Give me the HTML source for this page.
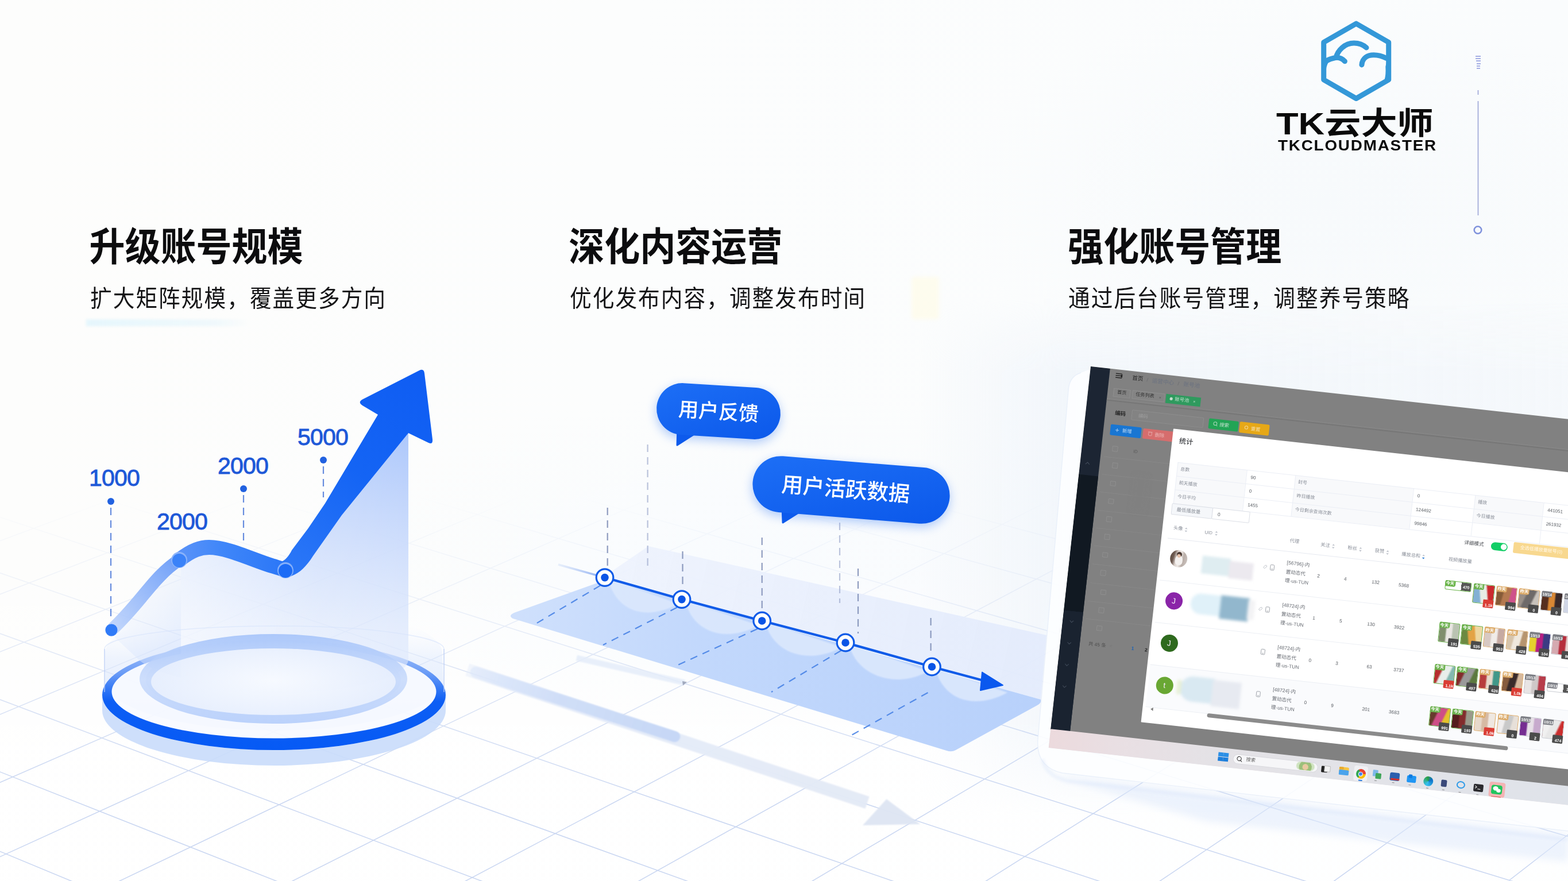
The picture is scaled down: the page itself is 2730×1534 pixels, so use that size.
<!DOCTYPE html><html lang="zh"><head><meta charset="utf-8"><title>TK云大师</title><style>
*{margin:0;padding:0;box-sizing:border-box}
html,body{width:2730px;height:1534px;overflow:hidden;background:#fcfdfd;font-family:"Liberation Sans","Noto Sans CJK SC",sans-serif}
#stage{position:relative;width:2730px;height:1534px;overflow:hidden;background:#fcfdfd}
.abs{position:absolute;left:0;top:0}
.t{position:absolute;white-space:nowrap;font-family:"Liberation Sans","Noto Sans CJK SC",sans-serif;line-height:1;overflow:visible;padding-top:.1em}
.t.g{color:#8b909a}
.t.r{color:#6a6e75}
.t.w{color:#fff;font-weight:bold}
svg{position:absolute;left:0;top:0;overflow:visible}

.num{position:absolute;font:41px/1 "Liberation Sans",sans-serif;color:#1d58d8;letter-spacing:-.8px;white-space:nowrap;-webkit-text-stroke:.9px #1d58d8}

#scr{position:absolute;left:1899px;top:638px;width:960px;height:668px;transform-origin:0 0;transform:rotate(6.3deg);overflow:hidden;background:linear-gradient(180deg,#818181 0,#818181 635.5px,#e6e1e6 635.5px);font-family:"Liberation Sans","Noto Sans CJK SC",sans-serif}
#scr svg{position:absolute;left:0;top:0;overflow:visible}
#scr svg text{font-family:"Liberation Sans",sans-serif}
.th{position:absolute;border:1.6px solid;border-radius:2.5px;overflow:visible}
.th i{position:absolute;left:-1px;top:-1px;width:18px;height:10px;border-radius:2px 0 3px 0}
.th b{position:absolute;right:-1px;bottom:-7px;width:18px;height:14px;border-radius:1.5px}

</style></head><body><div id="stage">
<div class="abs" style="width:2730px;height:1534px;background:
radial-gradient(ellipse 900px 500px at 2300px 350px, rgba(244,248,251,.55), rgba(244,248,251,0) 70%),
radial-gradient(ellipse 1100px 420px at 1300px 980px, rgba(246,250,255,.55), rgba(246,250,255,0) 70%),
linear-gradient(180deg,rgba(255,255,255,0) 62%,rgba(255,255,255,.85) 85%),
linear-gradient(90deg,#fdfdfc 0%,#fcfdfd 40%,#fafcfd 100%)"></div>
<div class="abs" style="left:1600px;top:520px;width:1130px;height:900px;background:linear-gradient(90deg,rgba(236,242,250,0) 0,rgba(236,242,250,.35) 150px,rgba(236,242,250,.6) 262px,rgba(240,245,250,.45) 100%);-webkit-mask-image:linear-gradient(180deg,transparent 0,#000 130px,#000 740px,transparent 100%);mask-image:linear-gradient(180deg,transparent 0,#000 130px,#000 740px,transparent 100%)"></div>
<div class="abs" style="left:150px;top:556px;width:285px;height:12px;background:linear-gradient(90deg,rgba(226,245,252,.9),rgba(232,246,252,.6) 80%,rgba(232,246,252,0));filter:blur(2px)"></div>
<div class="abs" style="left:1587px;top:482px;width:48px;height:74px;background:#fffce8;opacity:.7;filter:blur(3px);border-radius:4px"></div>

<svg id="grid" width="2730" height="1534" viewBox="0 0 2730 1534">
<defs><linearGradient id="gFade" x1="0" y1="860" x2="0" y2="1400" gradientUnits="userSpaceOnUse">
<stop offset="0" stop-color="#fff" stop-opacity="0"/><stop offset=".3" stop-color="#fff" stop-opacity=".28"/><stop offset=".65" stop-color="#fff" stop-opacity=".7"/><stop offset="1" stop-color="#fff" stop-opacity="1"/></linearGradient>
<mask id="gMask" maskUnits="userSpaceOnUse" x="0" y="0" width="2730" height="1534"><rect x="0" y="0" width="2730" height="1534" fill="url(#gFade)"/></mask></defs>
<g mask="url(#gMask)"><path d="M-767.8 500.8L-794.0 507.9M-572.0 500.3L-781.5 559.0M-401.0 507.1L-796.1 620.8M-204.2 506.7L-782.9 678.0M-7.4 506.3L-798.5 747.5M189.7 505.8L-784.5 812.1M386.8 505.4L-769.8 880.7M584.1 505.0L-786.3 964.4M781.6 504.6L-770.6 1042.7M979.2 504.2L-788.4 1138.7M1176.9 503.8L-771.6 1229.0M1374.8 503.4L-790.8 1340.3M1572.8 502.9L-772.7 1445.6M1771.0 502.5L-793.6 1576.2M1969.4 502.1L-774.0 1700.5M2167.8 501.7L-796.9 1855.7M2366.4 501.3L-775.6 2004.7M2565.2 500.9L-752.2 2167.8M2764.1 500.5L-777.5 2374.1M2963.2 500.0L-392.6 2374.6M3150.2 506.8L-7.2 2375.2M3350.3 506.4L378.7 2375.7M3550.5 506.0L765.2 2376.2M3591.2 620.6L1152.3 2376.8M3589.0 786.5L1539.9 2377.3M3599.7 969.9L1928.0 2377.9M3598.0 1199.1L2316.8 2378.4M3595.9 1475.9L2706.0 2378.9M3593.4 1817.0L3095.9 2379.5M3590.1 2247.4L3486.3 2380.0M3531.3 504.1L3570.8 511.3M3283.5 502.5L3600.0 561.4M3036.3 501.0L3588.9 606.3M2826.5 506.6L3577.2 653.2M2579.9 505.0L3565.0 702.2M2334.0 503.5L3596.9 762.7M2088.9 501.9L3584.6 817.0M1844.5 500.4L3571.6 874.0M1632.8 506.0L3558.0 934.0M1388.9 504.4L3593.2 1008.4M1145.8 502.9L3579.3 1075.5M903.3 501.3L3564.7 1146.4M690.0 506.9L3549.3 1221.3M448.1 505.4L3588.5 1314.9M206.9 503.8L3572.7 1400.0M-33.6 502.3L3556.0 1490.4M-273.4 500.8L3599.6 1604.3M-488.5 506.3L3582.5 1708.3M-727.7 504.8L3564.2 1819.6M-783.4 561.4L3544.6 1939.0M-793.9 637.6L3594.6 2090.9M-779.8 728.5L3574.5 2231.2M-791.0 818.1L3552.8 2383.1M-775.5 925.9L3068.9 2374.5M-787.6 1033.0L2658.0 2393.7M-770.4 1163.0L2176.1 2385.1M-783.5 1293.2L1697.0 2376.6M-798.1 1437.1L1280.8 2395.8M-778.5 1614.5L803.6 2387.2M-794.5 1795.4L329.3 2378.6M-772.0 2021.5L-92.3 2397.8M-790.0 2255.6L-564.7 2389.2" stroke="#b4c6ec" stroke-width="1.5" fill="none" opacity=".72"/></g>
</svg>
<svg id="chart" width="2730" height="1534" viewBox="0 0 2730 1534">
<defs>
<linearGradient id="cPanel" x1="0" y1="0" x2="0" y2="1" gradientUnits="objectBoundingBox">
<stop offset="0" stop-color="#a9c5fb" stop-opacity=".95"/><stop offset=".45" stop-color="#c9dafc" stop-opacity=".85"/><stop offset="1" stop-color="#e6eefd" stop-opacity=".55"/>
</linearGradient>
<linearGradient id="cPanelH" x1="315" y1="0" x2="711" y2="0" gradientUnits="userSpaceOnUse">
<stop offset="0" stop-color="#fff" stop-opacity=".55"/><stop offset=".6" stop-color="#fff" stop-opacity=".12"/><stop offset="1" stop-color="#fff" stop-opacity="0"/>
</linearGradient>
<linearGradient id="cPanelL" x1="194" y1="1000" x2="315" y2="1100" gradientUnits="userSpaceOnUse">
<stop offset="0" stop-color="#dfe9fd" stop-opacity=".0"/><stop offset="1" stop-color="#d5e3fd" stop-opacity=".55"/>
</linearGradient>
<linearGradient id="cArrow" x1="500" y1="990" x2="740" y2="650" gradientUnits="userSpaceOnUse">
<stop offset="0" stop-color="#2b77f7"/><stop offset=".5" stop-color="#1464f4"/><stop offset="1" stop-color="#0f5df3"/>
</linearGradient>
<linearGradient id="cCurve1" x1="194" y1="1097" x2="312" y2="975" gradientUnits="userSpaceOnUse">
<stop offset="0" stop-color="#b9d0fb" stop-opacity=".85"/><stop offset="1" stop-color="#6f9ff8"/>
</linearGradient>
<linearGradient id="cCurve2" x1="312" y1="0" x2="500" y2="0" gradientUnits="userSpaceOnUse">
<stop offset="0" stop-color="#5a93f8"/><stop offset=".4" stop-color="#3f86f9"/><stop offset="1" stop-color="#2a76f7"/>
</linearGradient>
<linearGradient id="cRing" x1="0" y1="1114" x2="0" y2="1306" gradientUnits="userSpaceOnUse">
<stop offset="0" stop-color="#9dbdf9" stop-opacity=".8"/><stop offset=".3" stop-color="#6b9cf6"/><stop offset=".47" stop-color="#2a72f5"/><stop offset=".56" stop-color="#0d5ef4"/><stop offset="1" stop-color="#065af5"/>
</linearGradient>
<linearGradient id="cRingIn" x1="0" y1="1104" x2="0" y2="1262" gradientUnits="userSpaceOnUse">
<stop offset="0" stop-color="#a9c6fa" stop-opacity=".95"/><stop offset=".5" stop-color="#c3d7fb" stop-opacity=".8"/><stop offset="1" stop-color="#b7cffb" stop-opacity=".95"/>
</linearGradient>
<linearGradient id="cGlass" x1="0" y1="1090" x2="0" y2="1230" gradientUnits="userSpaceOnUse">
<stop offset="0" stop-color="#e9f0fe" stop-opacity=".0"/><stop offset=".4" stop-color="#dbe7fd" stop-opacity=".45"/><stop offset="1" stop-color="#cfdffc" stop-opacity=".6"/>
</linearGradient>
<radialGradient id="cDisk" cx="476" cy="1185" r="235" gradientUnits="userSpaceOnUse" gradientTransform="translate(0 790) scale(1 .333)">
<stop offset="0" stop-color="#f7faff" stop-opacity=".9"/><stop offset="1" stop-color="#e3ecfd" stop-opacity=".9"/>
</radialGradient>
<filter id="blur6" x="-20%" y="-20%" width="140%" height="140%"><feGaussianBlur stdDeviation="6"/></filter>
<filter id="blur3" x="-20%" y="-20%" width="140%" height="140%"><feGaussianBlur stdDeviation="2.5"/></filter>
<filter id="blur1"><feGaussianBlur stdDeviation=".7"/></filter>
</defs>

<!-- shadow ring below -->
<path fill="#c9dbfb" opacity=".9" d="M178 1210 A299 96 0 0 0 776 1210 L776 1237 A299 96 0 0 1 178 1237 Z"/>

<!-- glass cylinder body -->
<path d="M183 1190 L183 1134 A294 86 0 0 1 770 1134 L772 1195 A296 88 0 0 1 183 1190Z" fill="url(#cGlass)"/>
<ellipse cx="477" cy="1206" rx="284" ry="82" fill="#f7faff" opacity=".9"/>

<!-- outer ring -->
<path fill-rule="evenodd" fill="url(#cRing)" d="M178 1210 A299 96 0 1 0 776 1210 A299 96 0 1 0 178 1210Z M194.5 1204.5 A282.5 81 0 1 1 759.5 1204.5 A282.5 81 0 1 1 194.5 1204.5Z"/>

<!-- vertical gradient panel under curve -->
<path d="M315 978 C335 958 350 953 364 953 C395 953 440 975 473 985 C500 993 520 985 540 955 L640 800 L711 754 L711 1150 A233 60 0 0 1 315 1190 Z" fill="url(#cPanel)"/>
<path d="M315 978 C335 958 350 953 364 953 C395 953 440 975 473 985 C500 993 520 985 540 955 L640 800 L711 754 L711 1150 A233 60 0 0 1 315 1190 Z" fill="url(#cPanelH)"/>
<path d="M194 1097 C240 1060 270 1010 315 978 L315 1180 A233 70 0 0 1 243 1150 L200 1110Z" fill="url(#cPanelL)"/>

<!-- inner ring (cylinder) -->
<ellipse cx="476" cy="1184" rx="222" ry="66" fill="url(#cDisk)"/>
<path fill-rule="evenodd" fill="url(#cRingIn)" d="M243 1182 A233 78 0 1 0 709 1182 A233 78 0 1 0 243 1182Z M263 1187 A213 58 0 1 1 689 1187 A213 58 0 1 1 263 1187Z"/>

<!-- glass cylinder outline -->
<path d="M182 1205 L182 1130 M773 1205 L773 1130" stroke="#b9cdf6" stroke-width="1.6" fill="none" opacity=".8"/>
<path d="M182 1130 A295 40 0 0 1 773 1130" stroke="#d5e2fb" stroke-width="1.5" fill="none" opacity=".6"/>

<!-- dashed guides -->
<g stroke="#4b78d8" stroke-width="2.2" stroke-dasharray="13 9" fill="none" opacity=".85">
<path d="M193 884 V1082"/>
<path d="M424 862 V942"/>
<path d="M563 812 V866"/>
</g>
<g fill="#2161e0"><circle cx="193" cy="873" r="6"/><circle cx="424" cy="851" r="6"/><circle cx="563" cy="801" r="6"/></g>

<!-- curve segment 1 (light) -->
<path d="M194 1097 C245 1050 268 1003 312 975" stroke="url(#cCurve1)" stroke-width="22" fill="none" stroke-linecap="round"/>
<!-- curve segment 2 -->
<path d="M312 975 C335 957 350 953 364 953 C396 953 440 975 473 985 C484 988 492 991 498 993" stroke="url(#cCurve2)" stroke-width="26" fill="none" stroke-linecap="round"/>
<!-- arrow shaft + head -->
<path d="M486 980 C497 976 503 968 508 958 L536.5 920 L566 876.5 L658 722 L631 706 Q622 700 632 695 L730 645 Q738 641 739 650 L753 765 Q754 776 744 770 L711 754 L595 897 L545 968 C530 992 515 1003 496 1006 Z" fill="url(#cArrow)"/>
<!-- dots -->
<circle cx="194" cy="1097" r="10.5" fill="#2f7af7"/>
<circle cx="312" cy="975" r="14" fill="#8fb6fa" opacity=".9"/><circle cx="312" cy="976" r="12" fill="#3a82f8"/>
<circle cx="497" cy="993" r="14" fill="#8fb6fa" opacity=".9"/><circle cx="497" cy="994" r="12" fill="#1b6bf6"/>
</svg>
<div class="num" style="left:155px;top:812px">1000</div>
<div class="num" style="left:273px;top:888px">2000</div>
<div class="num" style="left:379px;top:791px">2000</div>
<div class="num" style="left:518px;top:741px">5000</div>

<svg id="timeline" width="2730" height="1534" viewBox="0 0 2730 1534">
<defs>
<linearGradient id="tPlane" x1="900" y1="1070" x2="1800" y2="1230" gradientUnits="userSpaceOnUse">
<stop offset="0" stop-color="#cfe0fc"/><stop offset=".35" stop-color="#c2d8fc"/><stop offset="1" stop-color="#b8d1fb"/></linearGradient>
<linearGradient id="tBack" x1="1050" y1="960" x2="1800" y2="1130" gradientUnits="userSpaceOnUse">
<stop offset="0" stop-color="#edf2fd" stop-opacity=".9"/><stop offset="1" stop-color="#e3ebfc" stop-opacity=".95"/></linearGradient>
<linearGradient id="tLead" x1="972" y1="983" x2="1053" y2="1006" gradientUnits="userSpaceOnUse">
<stop offset="0" stop-color="#bcd0f6" stop-opacity=".3"/><stop offset="1" stop-color="#7fa4ef"/></linearGradient>
<linearGradient id="tBub" x1="0" y1="0" x2="1" y2="1">
<stop offset="0" stop-color="#1d6ff6"/><stop offset="1" stop-color="#0b58ea"/></linearGradient>
<linearGradient id="tFade" x1="0" y1="0" x2="0" y2="1"><stop offset="0" stop-color="#7d8db3"/><stop offset=".7" stop-color="#8b9bc3" stop-opacity=".8"/><stop offset="1" stop-color="#9fb0d8" stop-opacity=".15"/></linearGradient>
<linearGradient id="tArr1" x1="814" y1="1166" x2="1510" y2="1397" gradientUnits="userSpaceOnUse">
<stop offset="0" stop-color="#e6edfa" stop-opacity=".5"/><stop offset=".1" stop-color="#e4ecfa" stop-opacity=".95"/><stop offset="1" stop-color="#e3e9f5" stop-opacity=".95"/></linearGradient>
<linearGradient id="tArr2" x1="828" y1="1170" x2="1175" y2="1283" gradientUnits="userSpaceOnUse">
<stop offset="0" stop-color="#d9e5fa" stop-opacity=".55"/><stop offset=".4" stop-color="#cfddf7" stop-opacity=".95"/><stop offset="1" stop-color="#c6d7f6"/></linearGradient>
<filter id="tb4" x="-10%" y="-30%" width="120%" height="160%"><feGaussianBlur stdDeviation="3"/></filter><filter id="tb1" x="-5%" y="-20%" width="110%" height="140%"><feGaussianBlur stdDeviation=".8"/></filter>
<filter id="tb10" x="-30%" y="-30%" width="160%" height="160%"><feGaussianBlur stdDeviation="9"/></filter>
</defs>
<g filter="url(#tb1)">
<path d="M810.4 1176.4L1506.5 1407.9L1513.5 1387.1L817.4 1155.6Z" fill="url(#tArr1)"/>
<path d="M1502 1437 L1543.5 1391.5 L1602 1435Z" fill="#dde5f2" opacity=".95"/>
<path d="M1002.9 1150.6L1190.9 1193.5L1193.1 1183.7L1005.1 1140.8Z" fill="#e4ecf9" opacity=".85"/>
</g>
<path d="M828.3 1170.4 L1174.8 1282.6" stroke="url(#tArr2)" stroke-width="19" stroke-linecap="round" fill="none" filter="url(#tb1)"/>
<path d="M1188 1186 l8 1.5 l-7 6z" fill="#8a93aa" opacity=".75"/>
<path d="M1053 1003 L1129 951 L1822 1106 L1812 1218 Z" fill="url(#tBack)"/>
<path d="M895 1067 L1040 1015 L1053 1006 L1812 1218 Q1814 1224 1806 1228 L1664 1306 Q1657 1310 1648 1307 L893 1077 Q884 1072 895 1067Z" fill="url(#tPlane)"/>
<path d="M1059 1007.6 C1071 1061.6 1121 1083.6 1181 1051.6 Z" fill="#dbe8fd" opacity=".92" filter="url(#tb1)"/>
<path d="M1193 1045.6 C1205 1099.6 1260.7 1121 1320.7 1089 Z" fill="#dbe8fd" opacity=".92" filter="url(#tb1)"/>
<path d="M1332.7 1083 C1344.7 1137 1406 1159 1466 1127 Z" fill="#dbe8fd" opacity=".92" filter="url(#tb1)"/>
<path d="M1478 1121 C1490 1175 1556.5 1201 1616.5 1169 Z" fill="#dbe8fd" opacity=".92" filter="url(#tb1)"/>
<path d="M1628.5 1163 C1640.5 1217 1694 1238 1754 1206 Z" fill="#dbe8fd" opacity=".92" filter="url(#tb1)"/>
<g stroke="#4a84e6" stroke-width="2.2" stroke-dasharray="13 10" fill="none" opacity=".9">
<path d="M1045 1019.6 L933 1086"/>
<path d="M1179 1057.6 L1050 1123"/>
<path d="M1318.7 1095 L1180 1158"/>
<path d="M1464 1133 L1343 1205"/>
<path d="M1615.5 1206 L1479 1282"/>
</g>
<path d="M1057.7 884 L1057.71 990" stroke="#8391b8" stroke-width="2.2" stroke-dasharray="13 9" fill="none" opacity="0.9"/>
<path d="M1127.6 774 L1127.61 992" stroke="#8f9dc4" stroke-width="2.2" stroke-dasharray="13 9" fill="none" opacity="0.6"/>
<path d="M1188.5 960 L1188.51 1025" stroke="#8391b8" stroke-width="2.2" stroke-dasharray="13 9" fill="none" opacity="0.9"/>
<path d="M1326.7 936 L1326.71 1062" stroke="#8391b8" stroke-width="2.2" stroke-dasharray="13 9" fill="none" opacity="0.9"/>
<path d="M1462 910 L1462.01 1050" stroke="#8f9dc4" stroke-width="2.2" stroke-dasharray="13 9" fill="none" opacity="0.6"/>
<path d="M1494 990 L1494.01 1103" stroke="#8391b8" stroke-width="2.2" stroke-dasharray="13 9" fill="none" opacity="0.9"/>
<path d="M1620.6 1076 L1620.61 1142" stroke="#8391b8" stroke-width="2.2" stroke-dasharray="13 9" fill="none" opacity="0.9"/>
<path d="M972 983 L1053 1005.6" stroke="url(#tLead)" stroke-width="3.5" fill="none"/>
<path d="M1053 1005.6 L1187 1043.6 L1326.7 1081 L1472 1119 L1622.5 1161 L1716 1186" stroke="#0f5be8" stroke-width="4.2" fill="none"/>
<path d="M1746 1193 L1710 1170.5 L1707 1202Z" fill="#0a58ee" stroke="#0a58ee" stroke-width="2" stroke-linejoin="round"/>
<circle cx="1053" cy="1005.6" r="14.8" fill="#fff" stroke="#0f5be8" stroke-width="3.2"/><circle cx="1053" cy="1005.6" r="6.8" fill="#0b55e6"/>
<circle cx="1187" cy="1043.6" r="14.8" fill="#fff" stroke="#0f5be8" stroke-width="3.2"/><circle cx="1187" cy="1043.6" r="6.8" fill="#0b55e6"/>
<circle cx="1326.7" cy="1081" r="14.8" fill="#fff" stroke="#0f5be8" stroke-width="3.2"/><circle cx="1326.7" cy="1081" r="6.8" fill="#0b55e6"/>
<circle cx="1472" cy="1119" r="14.8" fill="#fff" stroke="#0f5be8" stroke-width="3.2"/><circle cx="1472" cy="1119" r="6.8" fill="#0b55e6"/>
<circle cx="1622.5" cy="1161" r="14.8" fill="#fff" stroke="#0f5be8" stroke-width="3.2"/><circle cx="1622.5" cy="1161" r="6.8" fill="#0b55e6"/>
<g filter="url(#tb10)" opacity=".55"><rect x="1143.0" y="677.0" width="216" height="90" rx="45.0" transform="rotate(3.6 1251 716)" fill="#6fa0f6"/></g>
<path d="M1180 744 L1179 775 L1218 750Z" fill="#0d5aec" stroke="#0d5aec" stroke-width="3" stroke-linejoin="round"/>
<rect x="1143.0" y="671.0" width="216" height="90" rx="45.0" transform="rotate(3.6 1251 716)" fill="url(#tBub)"/>
<g filter="url(#tb10)" opacity=".55"><rect x="1310.0" y="810.0" width="344" height="98" rx="49.0" transform="rotate(4.6 1482 853)" fill="#6fa0f6"/></g>
<path d="M1362 880 L1363 910 L1404 884Z" fill="#0d5aec" stroke="#0d5aec" stroke-width="3" stroke-linejoin="round"/>
<rect x="1310.0" y="804.0" width="344" height="98" rx="49.0" transform="rotate(4.6 1482 853)" fill="url(#tBub)"/>
</svg>
<div class="t" style="left:1178px;top:695px;font-size:35px;width:146px;height:50px;text-align:center;color:#fff;font-weight:500;transform:rotate(3.6deg)">用户反馈</div>
<div class="t" style="left:1360px;top:830px;font-size:37.3px;width:226px;height:56px;color:#fff;font-weight:500;transform:rotate(4.6deg)">用户活跃数据</div>
<svg width="2730" height="1534" viewBox="0 0 2730 1534">
<defs><filter id="fb8" x="-10%" y="-10%" width="120%" height="120%"><feGaussianBlur stdDeviation="7"/></filter>
<filter id="fb3" x="-10%" y="-10%" width="120%" height="120%"><feGaussianBlur stdDeviation="2.5"/></filter>
<linearGradient id="fShade" x1="1640" y1="0" x2="1862" y2="0" gradientUnits="userSpaceOnUse"><stop offset="0" stop-color="#eaf0f8" stop-opacity="0"/><stop offset=".6" stop-color="#eaf0f8" stop-opacity=".55"/><stop offset="1" stop-color="#e6edf7" stop-opacity=".95"/></linearGradient>
<linearGradient id="fShadeV" x1="0" y1="560" x2="0" y2="1380" gradientUnits="userSpaceOnUse"><stop offset="0" stop-color="#fff" stop-opacity="0"/><stop offset=".12" stop-color="#fff" stop-opacity="1"/><stop offset=".85" stop-color="#fff" stop-opacity="1"/><stop offset="1" stop-color="#fff" stop-opacity="0"/></linearGradient>
<mask id="fMask" maskUnits="userSpaceOnUse" x="1600" y="500" width="400" height="1000"><rect x="1600" y="500" width="400" height="1000" fill="url(#fShadeV)"/></mask>
</defs>

<path d="M1840 1352 L2730 1452 L2730 1500 L2100 1430 Z" fill="#dfe9fb" opacity=".55" filter="url(#fb8)"/>
<path d="M1905 640 L1882 649 Q1863 655 1860.5 676 L1807 1287 Q1803 1336 1850 1346 L2730 1447 L2730 740 Z" fill="#fdfeff" opacity=".9"/>
<path d="M1882 649 Q1863 655 1860.5 676 L1807 1287 Q1803 1336 1850 1346 L2730 1447" fill="none" stroke="#e6edf9" stroke-width="1.4" opacity=".8"/>
<path d="M1815 1322 Q1822 1352 1860 1360 L2730 1462" fill="none" stroke="#d9e5fa" stroke-width="5" opacity=".5" filter="url(#fb3)"/>
</svg>
<div id="scr">
<div style="position:absolute;left:0px;top:0px;width:34px;height:636px;background:#1c2533;"></div>
<div style="position:absolute;left:0px;top:189px;width:34px;height:238px;background:#111922;"></div>
<div style="position:absolute;left:0px;top:427px;width:34px;height:209px;background:#1a2330;"></div>
<span class="t" style="left:74.0px;top:6.2px;font-size:9.6px;width:19.2px;height:11.5px;color:#262626">首页</span>
<span class="t" style="left:109.0px;top:6.6px;font-size:9.6px;width:38.4px;height:11.5px;color:#6b7280">运营中心</span>
<span class="t" style="left:164.0px;top:7.2px;font-size:9.6px;width:28.8px;height:11.5px;color:#6b7280">账号池</span>
<div style="position:absolute;left:44px;top:32.5px;width:30px;height:15.5px;background:#848484;border:1px solid #8f8f8f"></div>
<span class="t" style="left:50.8px;top:35.4px;font-size:8.2px;width:16.4px;height:9.8px;color:#333">首页</span>
<div style="position:absolute;left:77px;top:32.5px;width:57px;height:15.5px;background:#848484;border:1px solid #8f8f8f"></div>
<span class="t" style="left:83.0px;top:35.4px;font-size:8.2px;width:32.8px;height:9.8px;color:#333">任务列表</span>
<div style="position:absolute;left:136px;top:32.5px;width:61px;height:16.5px;background:#2f9a5e;"></div>
<span class="t" style="left:152.0px;top:35.8px;font-size:8.2px;width:24.6px;height:9.8px;color:#bfe0cc">账号池</span>
<div style="position:absolute;left:34px;top:51.5px;width:900px;height:1px;background:#898989;"></div>
<div style="position:absolute;left:34px;top:53.5px;width:900px;height:2.2px;background:#767676;opacity:.9"></div>
<span class="t" style="left:51.0px;top:70.4px;font-size:9.4px;width:18.8px;height:11.3px;color:#262626;font-weight:bold">编码</span>
<div style="position:absolute;left:80px;top:66.5px;width:126px;height:18.5px;background:#838383;border-radius:2px;border:1px solid #8e8e8e"></div>
<span class="t" style="left:92.0px;top:71.0px;font-size:8.4px;width:16.8px;height:10.1px;color:#9d9d9d">编码</span>
<div style="position:absolute;left:214.5px;top:66.8px;width:52px;height:18.6px;background:#22a455;border-radius:2px;"></div>
<span class="t" style="left:234.0px;top:71.2px;font-size:8.4px;width:16.8px;height:10.1px;color:#a9d8bb;font-weight:500">搜索</span>
<div style="position:absolute;left:269.3px;top:67.4px;width:52px;height:18.4px;background:#e6a817;border-radius:2px;"></div>
<span class="t" style="left:289.0px;top:71.8px;font-size:8.4px;width:16.8px;height:10.1px;color:#f3d694;font-weight:500">重置</span>
<div style="position:absolute;left:46px;top:96px;width:54px;height:18.5px;background:#1976d2;border-radius:2px;"></div>
<span class="t" style="left:67.0px;top:100.5px;font-size:8.4px;width:16.8px;height:10.1px;color:#a9cdf0;font-weight:500">新增</span>
<div style="position:absolute;left:102.6px;top:96.5px;width:54px;height:18px;background:#d66d6d;border-radius:2px;"></div>
<span class="t" style="left:124.0px;top:100.8px;font-size:8.4px;width:16.8px;height:10.1px;color:#e7a9a9;font-weight:500">删除</span>
<div style="position:absolute;left:53px;top:133px;width:9.5px;height:9.5px;background:#828282;border-radius:1.5px;border:1px solid #8f8f8f"></div>
<div style="position:absolute;left:56px;top:162px;width:9.5px;height:9.5px;background:#828282;border-radius:1.5px;border:1px solid #8f8f8f"></div>
<div style="position:absolute;left:40px;top:152.5px;width:120px;height:1px;background:#8b8b8b;opacity:.8"></div>
<div style="position:absolute;left:56px;top:193.5px;width:9.5px;height:9.5px;background:#828282;border-radius:1.5px;border:1px solid #8f8f8f"></div>
<div style="position:absolute;left:40px;top:184.0px;width:120px;height:1px;background:#8b8b8b;opacity:.8"></div>
<div style="position:absolute;left:56px;top:224.7px;width:9.5px;height:9.5px;background:#828282;border-radius:1.5px;border:1px solid #8f8f8f"></div>
<div style="position:absolute;left:40px;top:215.2px;width:120px;height:1px;background:#8b8b8b;opacity:.8"></div>
<div style="position:absolute;left:56px;top:256px;width:9.5px;height:9.5px;background:#828282;border-radius:1.5px;border:1px solid #8f8f8f"></div>
<div style="position:absolute;left:40px;top:246.5px;width:120px;height:1px;background:#8b8b8b;opacity:.8"></div>
<div style="position:absolute;left:56px;top:287.3px;width:9.5px;height:9.5px;background:#828282;border-radius:1.5px;border:1px solid #8f8f8f"></div>
<div style="position:absolute;left:40px;top:277.8px;width:120px;height:1px;background:#8b8b8b;opacity:.8"></div>
<div style="position:absolute;left:56px;top:318.6px;width:9.5px;height:9.5px;background:#828282;border-radius:1.5px;border:1px solid #8f8f8f"></div>
<div style="position:absolute;left:40px;top:309.1px;width:120px;height:1px;background:#8b8b8b;opacity:.8"></div>
<div style="position:absolute;left:56px;top:350px;width:9.5px;height:9.5px;background:#828282;border-radius:1.5px;border:1px solid #8f8f8f"></div>
<div style="position:absolute;left:40px;top:340.5px;width:120px;height:1px;background:#8b8b8b;opacity:.8"></div>
<div style="position:absolute;left:60px;top:383.6px;width:9.5px;height:9.5px;background:#828282;border-radius:1.5px;border:1px solid #8f8f8f"></div>
<div style="position:absolute;left:40px;top:374.1px;width:120px;height:1px;background:#8b8b8b;opacity:.8"></div>
<div style="position:absolute;left:60px;top:415px;width:9.5px;height:9.5px;background:#828282;border-radius:1.5px;border:1px solid #8f8f8f"></div>
<div style="position:absolute;left:40px;top:405.5px;width:120px;height:1px;background:#8b8b8b;opacity:.8"></div>
<div style="position:absolute;left:60px;top:446.7px;width:9.5px;height:9.5px;background:#828282;border-radius:1.5px;border:1px solid #8f8f8f"></div>
<div style="position:absolute;left:40px;top:437.2px;width:120px;height:1px;background:#8b8b8b;opacity:.8"></div>
<div style="position:absolute;left:96px;top:178px;width:26px;height:66px;background:#818181;filter:blur(3px);opacity:.7"></div>
<span class="t" style="left:49.0px;top:475.0px;font-size:8.4px;width:29.9px;height:10.1px;color:#4e4e4e">共 45 条</span>
<div style="position:absolute;left:154.5px;top:91.5px;width:800px;height:514px;background:#fff;border-radius:1px"></div>
<span class="t" style="left:167.3px;top:104.7px;font-size:12.2px;width:24.4px;height:14.6px;color:#3a3c40;font-weight:500">统计</span>
<div style="position:absolute;left:169px;top:149px;width:121px;height:72px;background:#f8f9fb;"></div>
<div style="position:absolute;left:375px;top:149px;width:207px;height:72px;background:#f8f9fb;"></div>
<div style="position:absolute;left:690px;top:149px;width:120px;height:48px;background:#f8f9fb;"></div>
<div style="position:absolute;left:169px;top:149px;width:740px;height:1px;background:#ebeef5;"></div>
<div style="position:absolute;left:169px;top:173px;width:740px;height:1px;background:#ebeef5;"></div>
<div style="position:absolute;left:169px;top:197px;width:740px;height:1px;background:#ebeef5;"></div>
<div style="position:absolute;left:169px;top:221px;width:740px;height:1px;background:#ebeef5;"></div>
<div style="position:absolute;left:169px;top:149px;width:1px;height:72px;background:#ebeef5;"></div>
<div style="position:absolute;left:290px;top:149px;width:1px;height:72px;background:#ebeef5;"></div>
<div style="position:absolute;left:375px;top:149px;width:1px;height:72px;background:#ebeef5;"></div>
<div style="position:absolute;left:582px;top:149px;width:1px;height:72px;background:#ebeef5;"></div>
<div style="position:absolute;left:690px;top:149px;width:1px;height:72px;background:#ebeef5;"></div>
<div style="position:absolute;left:810px;top:149px;width:1px;height:72px;background:#ebeef5;"></div>
<span class="t g" style="left:175.0px;top:156.4px;font-size:8px;width:16.0px;height:9.6px">总数</span>
<span class="t g" style="left:175.0px;top:180.4px;font-size:8px;width:32.0px;height:9.6px">前天播放</span>
<span class="t g" style="left:175.0px;top:204.4px;font-size:8px;width:32.0px;height:9.6px">今日平均</span>
<span class="t g" style="left:381.0px;top:156.4px;font-size:8px;width:16.0px;height:9.6px">封号</span>
<span class="t g" style="left:381.0px;top:180.4px;font-size:8px;width:32.0px;height:9.6px">昨日播放</span>
<span class="t g" style="left:381.0px;top:204.4px;font-size:8px;width:64.0px;height:9.6px">今日剩余查询次数</span>
<span class="t g" style="left:696.0px;top:156.4px;font-size:8px;width:16.0px;height:9.6px">播放</span>
<span class="t g" style="left:696.0px;top:180.4px;font-size:8px;width:32.0px;height:9.6px">今日播放</span>
<div style="position:absolute;left:167px;top:221px;width:72px;height:20px;background:#f5f7fa;border-radius:2px;border:1px solid #dcdfe6"></div>
<span class="t" style="left:176.0px;top:226.3px;font-size:8.4px;width:42.0px;height:10.1px;color:#8d929b">最低播放量</span>
<div style="position:absolute;left:238px;top:221px;width:65.5px;height:20px;background:#fff;border-radius:2px;border:1px solid #dcdfe6"></div>
<span class="t" style="left:680.0px;top:227.8px;font-size:8.6px;width:34.4px;height:10.3px;color:#4a4d52">详细模式</span>
<div style="position:absolute;left:727px;top:227px;width:29px;height:13.5px;background:#13ce66;border-radius:7px;"></div>
<div style="position:absolute;left:766px;top:222.5px;width:140px;height:19.5px;background:#f8d88f;border-radius:2px;"></div>
<span class="t" style="left:778.0px;top:227.7px;font-size:8px;width:74.3px;height:9.6px;color:#fff4dc;font-weight:500">全选低播放量账号(0)</span>
<span class="t g" style="left:174.0px;top:259.6px;font-size:8.2px;width:16.4px;height:9.8px">头像</span>
<span class="t g" style="left:378.0px;top:259.6px;font-size:8.2px;width:16.4px;height:9.8px">代理</span>
<span class="t g" style="left:432.0px;top:259.9px;font-size:8.2px;width:16.4px;height:9.8px">关注</span>
<span class="t g" style="left:479.5px;top:260.1px;font-size:8.2px;width:16.4px;height:9.8px">粉丝</span>
<span class="t g" style="left:527.0px;top:260.3px;font-size:8.2px;width:16.4px;height:9.8px">获赞</span>
<span class="t g" style="left:574.0px;top:260.8px;font-size:8.2px;width:32.8px;height:9.8px">播放总和</span>
<span class="t g" style="left:656.0px;top:261.0px;font-size:8.2px;width:41.0px;height:9.8px">视频播放量</span>
<div style="position:absolute;left:166px;top:281.5px;width:760px;height:1px;background:#e6e9f0;"></div>
<div style="position:absolute;left:160px;top:503.5px;width:770px;height:74px;background:#fafbfd;"></div>
<div style="position:absolute;left:160px;top:356.3px;width:770px;height:1px;background:#eceff4;"></div>
<span class="t r" style="left:377.0px;top:297.6px;font-size:8.6px;width:41.3px;height:10.3px">[56796]-内</span>
<span class="t r" style="left:377.0px;top:313.1px;font-size:8.6px;width:34.4px;height:10.3px">置动态代</span>
<span class="t r" style="left:377.0px;top:328.1px;font-size:8.6px;width:41.4px;height:10.3px">理-us-TUN</span>
<div style="position:absolute;left:160px;top:430px;width:770px;height:1px;background:#eceff4;"></div>
<span class="t r" style="left:377.0px;top:371.3px;font-size:8.6px;width:41.3px;height:10.3px">[48724]-内</span>
<span class="t r" style="left:377.0px;top:386.8px;font-size:8.6px;width:34.4px;height:10.3px">置动态代</span>
<span class="t r" style="left:377.0px;top:401.8px;font-size:8.6px;width:41.4px;height:10.3px">理-us-TUN</span>
<div style="position:absolute;left:160px;top:504px;width:770px;height:1px;background:#eceff4;"></div>
<span class="t r" style="left:377.0px;top:445.3px;font-size:8.6px;width:41.3px;height:10.3px">[48724]-内</span>
<span class="t r" style="left:377.0px;top:460.8px;font-size:8.6px;width:34.4px;height:10.3px">置动态代</span>
<span class="t r" style="left:377.0px;top:475.8px;font-size:8.6px;width:41.4px;height:10.3px">理-us-TUN</span>
<div style="position:absolute;left:160px;top:578px;width:770px;height:1px;background:#eceff4;"></div>
<span class="t r" style="left:377.0px;top:519.3px;font-size:8.6px;width:41.3px;height:10.3px">[48724]-内</span>
<span class="t r" style="left:377.0px;top:534.8px;font-size:8.6px;width:34.4px;height:10.3px">置动态代</span>
<span class="t r" style="left:377.0px;top:549.8px;font-size:8.6px;width:41.4px;height:10.3px">理-us-TUN</span>
<div style="position:absolute;left:173.6px;top:301.2px;width:30px;height:30px;border-radius:50%;overflow:hidden;background:linear-gradient(100deg,#5b4a42 0%,#6d5a50 22%,#d9d0cb 38%,#efeae6 55%,#b9aea8 72%,#cfc6c2 100%)"><div style="position:absolute;left:11px;top:3px;width:9px;height:9px;border-radius:50%;background:#4b3a34"></div><div style="position:absolute;left:9px;top:10px;width:13px;height:16px;border-radius:40%;background:#f4f1ef"></div><div style="position:absolute;left:12px;top:7px;width:6px;height:6px;border-radius:50%;background:#e3bfa9"></div></div>
<div style="position:absolute;left:173.5px;top:375px;width:30px;height:30px;border-radius:50%;background:#8a24a8"></div>
<div style="position:absolute;left:173.5px;top:449px;width:30px;height:30px;border-radius:50%;background:#2e6a1e"></div>
<div style="position:absolute;left:173.5px;top:522.7px;width:30px;height:30px;border-radius:50%;background:#69a733"></div>
<div style="position:absolute;left:226px;top:304px;width:98px;height:38px;filter:blur(2.2px)"><div style="position:absolute;left:4px;top:2px;width:50px;height:31px;background:#dfedf1"></div><div style="position:absolute;left:52px;top:6px;width:42px;height:30px;background:#ece9ef"></div></div>
<div style="position:absolute;left:212px;top:366px;width:120px;height:50px;filter:blur(2.6px)"><div style="position:absolute;left:6px;top:6px;width:62px;height:36px;border-radius:18px 0 0 18px;background:#e0f1f9"></div><div style="position:absolute;left:58px;top:5px;width:50px;height:41px;background:#92b7cd"></div><div style="position:absolute;left:106px;top:8px;width:12px;height:34px;background:#f3f3f5"></div></div>
<div style="position:absolute;left:208px;top:511px;width:122px;height:60px;filter:blur(2.6px)"><div style="position:absolute;left:8px;top:6px;width:60px;height:44px;border-radius:22px 0 0 22px;background:#d9e9f2"></div><div style="position:absolute;left:64px;top:8px;width:50px;height:46px;background:#e7eaf1"></div><div style="position:absolute;left:2px;top:14px;width:8px;height:26px;border-radius:4px;background:#e8f0d8"></div></div>
<div class="th" style="left:654.5px;top:301.5px;width:46px;height:16px;border-color:#67b346;background:linear-gradient(90deg,#fff 0%,#fff 62%,#565656 62%)"><i style="background:#67b346"></i></div>
<span class="t w" style="left:656.1px;top:302.5px;font-size:7.4px;width:14.8px;height:8.9px">今天</span>
<div class="th" style="left:705.0px;top:301.5px;width:36.5px;height:34.5px;border-color:#67b346;background:linear-gradient(80deg,#7fb2d9 0%,#7fb2d9 30%,#e8ece6 38%,#e8ece6 62%,#d8262c 70%);filter:saturate(.9)"><i style="background:#67b346"></i><b style="background:#e8392f"></b></div>
<span class="t w" style="left:706.6px;top:302.5px;font-size:7.4px;width:14.8px;height:8.9px">今天</span>
<div class="th" style="left:744.7px;top:301.5px;width:36.5px;height:34.5px;border-color:#e1a95f;background:linear-gradient(100deg,#8a5a33 0%,#8a5a33 30%,#b9784a 38%,#b9784a 62%,#d94f8e 70%);filter:saturate(.9)"><i style="background:#e1a95f"></i><b style="background:#4b4b4b"></b></div>
<span class="t w" style="left:746.3px;top:302.5px;font-size:7.4px;width:14.8px;height:8.9px">昨天</span>
<div class="th" style="left:784.4000000000001px;top:301.5px;width:36.5px;height:34.5px;border-color:#e1a95f;background:linear-gradient(110deg,#9a8f86 0%,#9a8f86 30%,#6e6a69 38%,#6e6a69 62%,#c9c2ba 70%);filter:saturate(.9)"><i style="background:#e1a95f"></i><b style="background:#4b4b4b"></b></div>
<span class="t w" style="left:786.0px;top:302.5px;font-size:7.4px;width:14.8px;height:8.9px">昨天</span>
<div class="th" style="left:824.1000000000001px;top:301.5px;width:36.5px;height:34.5px;border-color:#c9ccd2;background:linear-gradient(90deg,#5a2d1c 0%,#5a2d1c 30%,#e0862a 38%,#e0862a 62%,#3a2a2a 70%);filter:saturate(.9)"><i style="background:#7d7f86"></i><b style="background:#4b4b4b"></b></div>
<div class="th" style="left:863.8000000000002px;top:301.5px;width:36.5px;height:34.5px;border-color:#c9ccd2;background:linear-gradient(90deg,#cfd6e8 0%,#cfd6e8 30%,#8ea2d6 38%,#8ea2d6 62%,#e8d9e0 70%);filter:saturate(.9)"><i style="background:#7d7f86"></i><b style="background:#4b4b4b"></b></div>
<div class="th" style="left:652.5px;top:375.3px;width:36.5px;height:34.5px;border-color:#67b346;background:linear-gradient(90deg,#7f8f6a 0%,#7f8f6a 30%,#e9e6e2 38%,#e9e6e2 62%,#b9c3b0 70%);filter:saturate(.9)"><i style="background:#67b346"></i><b style="background:#4b4b4b"></b></div>
<span class="t w" style="left:654.1px;top:376.3px;font-size:7.4px;width:14.8px;height:8.9px">今天</span>
<div class="th" style="left:692.2px;top:375.3px;width:36.5px;height:34.5px;border-color:#67b346;background:linear-gradient(80deg,#6a8a3a 0%,#6a8a3a 30%,#e9a23a 38%,#e9a23a 62%,#f0d79a 70%);filter:saturate(.9)"><i style="background:#67b346"></i><b style="background:#4b4b4b"></b></div>
<span class="t w" style="left:693.8px;top:376.3px;font-size:7.4px;width:14.8px;height:8.9px">今天</span>
<div class="th" style="left:731.9000000000001px;top:375.3px;width:36.5px;height:34.5px;border-color:#e1a95f;background:linear-gradient(90deg,#d9c9c2 0%,#d9c9c2 30%,#f1ece8 38%,#f1ece8 62%,#c9a9a0 70%);filter:saturate(.9)"><i style="background:#e1a95f"></i><b style="background:#4b4b4b"></b></div>
<span class="t w" style="left:733.5px;top:376.3px;font-size:7.4px;width:14.8px;height:8.9px">昨天</span>
<div class="th" style="left:771.6000000000001px;top:375.3px;width:36.5px;height:34.5px;border-color:#e1a95f;background:linear-gradient(100deg,#d8c4a8 0%,#d8c4a8 30%,#f0e8dc 38%,#f0e8dc 62%,#b9956a 70%);filter:saturate(.9)"><i style="background:#e1a95f"></i><b style="background:#4b4b4b"></b></div>
<span class="t w" style="left:773.2px;top:376.3px;font-size:7.4px;width:14.8px;height:8.9px">昨天</span>
<div class="th" style="left:811.3000000000002px;top:375.3px;width:36.5px;height:34.5px;border-color:#c9ccd2;background:linear-gradient(90deg,#e8d21c 0%,#e8d21c 30%,#c21c8a 38%,#c21c8a 62%,#3a3a8a 70%);filter:saturate(.9)"><i style="background:#7d7f86"></i><b style="background:#4b4b4b"></b></div>
<div class="th" style="left:851.0000000000002px;top:375.3px;width:36.5px;height:34.5px;border-color:#c9ccd2;background:linear-gradient(90deg,#d9a9b0 0%,#d9a9b0 30%,#c22a3a 38%,#c22a3a 62%,#e8d0d0 70%);filter:saturate(.9)"><i style="background:#7d7f86"></i><b style="background:#4b4b4b"></b></div>
<div class="th" style="left:652.5px;top:448.5px;width:36.5px;height:34.5px;border-color:#67b346;background:linear-gradient(110deg,#c22a2a 0%,#c22a2a 30%,#e8eeea 38%,#e8eeea 62%,#7fb9b0 70%);filter:saturate(.9)"><i style="background:#67b346"></i><b style="background:#e8392f"></b></div>
<span class="t w" style="left:654.1px;top:449.5px;font-size:7.4px;width:14.8px;height:8.9px">今天</span>
<div class="th" style="left:692.2px;top:448.5px;width:36.5px;height:34.5px;border-color:#67b346;background:linear-gradient(110deg,#8a2a2a 0%,#8a2a2a 30%,#9a9a9a 38%,#9a9a9a 62%,#5a7a3a 70%);filter:saturate(.9)"><i style="background:#67b346"></i><b style="background:#4b4b4b"></b></div>
<span class="t w" style="left:693.8px;top:449.5px;font-size:7.4px;width:14.8px;height:8.9px">今天</span>
<div class="th" style="left:731.9000000000001px;top:448.5px;width:36.5px;height:34.5px;border-color:#e1a95f;background:linear-gradient(90deg,#c23a3a 0%,#c23a3a 30%,#e8d9c9 38%,#e8d9c9 62%,#3a9a8a 70%);filter:saturate(.9)"><i style="background:#e1a95f"></i><b style="background:#4b4b4b"></b></div>
<span class="t w" style="left:733.5px;top:449.5px;font-size:7.4px;width:14.8px;height:8.9px">昨天</span>
<div class="th" style="left:771.6000000000001px;top:448.5px;width:36.5px;height:34.5px;border-color:#e1a95f;background:linear-gradient(100deg,#8a5a3a 0%,#8a5a3a 30%,#3a2a2a 38%,#3a2a2a 62%,#d9b99a 70%);filter:saturate(.9)"><i style="background:#e1a95f"></i><b style="background:#e8392f"></b></div>
<span class="t w" style="left:773.2px;top:449.5px;font-size:7.4px;width:14.8px;height:8.9px">昨天</span>
<div class="th" style="left:811.3000000000002px;top:448.5px;width:36.5px;height:34.5px;border-color:#c9ccd2;background:linear-gradient(90deg,#e8e4e4 0%,#e8e4e4 30%,#d0c8c8 38%,#d0c8c8 62%,#c23a4a 70%);filter:saturate(.9)"><i style="background:#7d7f86"></i><b style="background:#4b4b4b"></b></div>
<div class="th" style="left:851.0000000000002px;top:458.5px;width:46px;height:16px;border-color:#c9ccd2;background:linear-gradient(90deg,#fff 0%,#fff 62%,#565656 62%)"><i style="background:#7d7f86"></i></div>
<div class="th" style="left:652.5px;top:522.5px;width:36.5px;height:34.5px;border-color:#67b346;background:linear-gradient(110deg,#6a3a2a 0%,#6a3a2a 30%,#d94a8a 38%,#d94a8a 62%,#e8c21c 70%);filter:saturate(.9)"><i style="background:#67b346"></i><b style="background:#4b4b4b"></b></div>
<span class="t w" style="left:654.1px;top:523.5px;font-size:7.4px;width:14.8px;height:8.9px">今天</span>
<div class="th" style="left:692.2px;top:522.5px;width:36.5px;height:34.5px;border-color:#67b346;background:linear-gradient(90deg,#5a1c1c 0%,#5a1c1c 30%,#8a2a2a 38%,#8a2a2a 62%,#9a9a8a 70%);filter:saturate(.9)"><i style="background:#67b346"></i><b style="background:#4b4b4b"></b></div>
<span class="t w" style="left:693.8px;top:523.5px;font-size:7.4px;width:14.8px;height:8.9px">今天</span>
<div class="th" style="left:731.9000000000001px;top:522.5px;width:36.5px;height:34.5px;border-color:#e1a95f;background:linear-gradient(90deg,#e8d9c9 0%,#e8d9c9 30%,#d9b9a0 38%,#d9b9a0 62%,#f0e8e0 70%);filter:saturate(.9)"><i style="background:#e1a95f"></i><b style="background:#e8392f"></b></div>
<span class="t w" style="left:733.5px;top:523.5px;font-size:7.4px;width:14.8px;height:8.9px">昨天</span>
<div class="th" style="left:771.6000000000001px;top:522.5px;width:36.5px;height:34.5px;border-color:#e1a95f;background:linear-gradient(100deg,#f0eeee 0%,#f0eeee 30%,#c9c9c9 38%,#c9c9c9 62%,#e8e0d8 70%);filter:saturate(.9)"><i style="background:#e1a95f"></i><b style="background:#4b4b4b"></b></div>
<span class="t w" style="left:773.2px;top:523.5px;font-size:7.4px;width:14.8px;height:8.9px">昨天</span>
<div class="th" style="left:811.3000000000002px;top:522.5px;width:36.5px;height:34.5px;border-color:#c9ccd2;background:linear-gradient(90deg,#7a2a9a 0%,#7a2a9a 30%,#e8e0e8 38%,#e8e0e8 62%,#c9a9d0 70%);filter:saturate(.9)"><i style="background:#7d7f86"></i><b style="background:#4b4b4b"></b></div>
<div class="th" style="left:851.0000000000002px;top:522.5px;width:36.5px;height:34.5px;border-color:#c9ccd2;background:linear-gradient(110deg,#f0f0f0 0%,#f0f0f0 30%,#e8e8e8 38%,#e8e8e8 62%,#d92a2a 70%);filter:saturate(.9)"><i style="background:#7d7f86"></i><b style="background:#4b4b4b"></b></div>
<div style="position:absolute;left:268px;top:578px;width:527px;height:6.5px;background:#8b8b8b;border-radius:3.5px;"></div>
<div style="position:absolute;left:0px;top:635px;width:960px;height:33px;background:linear-gradient(90deg,#ecdadd 0%,#e9dfe3 12%,#e4e2e6 30%,#e2e3e8 60%,#dfe3ea 100%)"></div>
<div style="position:absolute;left:295px;top:643.4px;width:8.6px;height:7px;background:#2b8fe6;"></div>
<div style="position:absolute;left:304.3px;top:643.4px;width:8.6px;height:7px;background:#2b8fe6;"></div>
<div style="position:absolute;left:295px;top:651.0px;width:8.6px;height:7px;background:#1d7fdc;"></div>
<div style="position:absolute;left:304.3px;top:651.0px;width:8.6px;height:7px;background:#1d7fdc;"></div>
<div style="position:absolute;left:320.5px;top:642.5px;width:149px;height:17.5px;background:#f6f6f8;border-radius:9px;border:1px solid #d9d9de"></div>
<span class="t" style="left:344.0px;top:646.4px;font-size:8.2px;width:16.4px;height:9.8px;color:#666">搜索</span>
<div style="position:absolute;left:432px;top:644px;width:32px;height:14px;border-radius:7px;background:radial-gradient(circle at 50% 60%,#e9c9a0 0 28%,#9bbf7a 30% 60%,#cfe3c0 62%);filter:blur(.4px)"></div>
<div style="position:absolute;left:476px;top:647px;width:11px;height:11px;background:#222;border-radius:1.5px;"></div>
<div style="position:absolute;left:481px;top:645.5px;width:11px;height:11px;background:#f2f2f2;border-radius:1.5px;border:1px solid #bbb"></div>
<div style="position:absolute;left:506.5px;top:645px;width:17px;height:13px;background:#f6c544;border-radius:2px;"></div>
<div style="position:absolute;left:506.5px;top:650px;width:17px;height:8.5px;background:#4aa3ec;border-radius:1.5px;"></div>
<div style="position:absolute;left:506.5px;top:645px;width:8px;height:4px;background:#e8a92c;border-radius:1.5px;"></div>
<div style="position:absolute;left:533px;top:640px;width:24px;height:26px;background:#f0f0f4;border-radius:4px;"></div>
<div style="position:absolute;left:536.5px;top:645px;width:17px;height:17px;border-radius:50%;background:conic-gradient(from -30deg,#e94335 0 120deg,#fbbc05 120deg 240deg,#34a853 240deg)"></div>
<div style="position:absolute;left:541px;top:649.5px;width:8px;height:8px;background:#4285f4;border-radius:5px;border:1.3px solid #fff"></div>
<div style="position:absolute;left:541.5px;top:664.2px;width:7px;height:1.6px;background:#2b7de0;border-radius:1px;"></div>
<div style="position:absolute;left:566px;top:644px;width:9px;height:11px;background:#7db7e8;border-radius:1px;"></div>
<div style="position:absolute;left:571px;top:649px;width:10px;height:10px;background:#3fa558;border-radius:1.5px;"></div>
<div style="position:absolute;left:569.5px;top:661.5px;width:4px;height:1.3px;background:#8a8a8a;"></div>
<div style="position:absolute;left:596px;top:645px;width:17px;height:14px;background:#2b5fae;border-radius:3px;"></div>
<div style="position:absolute;left:598px;top:655px;width:15px;height:3px;background:#d4322c;"></div>
<div style="position:absolute;left:600.5px;top:662px;width:4px;height:1.3px;background:#8a8a8a;"></div>
<div style="position:absolute;left:626px;top:647px;width:16px;height:12px;background:#2196f3;border-radius:2px;"></div>
<div style="position:absolute;left:629px;top:644.5px;width:6px;height:6px;background:#0d7be0;border-radius:1px;"></div>
<div style="position:absolute;left:630px;top:662.5px;width:4px;height:1.3px;background:#8a8a8a;"></div>
<div style="position:absolute;left:655px;top:644.5px;width:17px;height:17px;border-radius:50%;background:conic-gradient(from 200deg,#35c1f1,#2ea043 40%,#0f6fc6 60%,#35c1f1)"></div>
<div style="position:absolute;left:661px;top:664.5px;width:4px;height:1.3px;background:#8a8a8a;"></div>
<div style="position:absolute;left:686px;top:648px;width:10px;height:12px;background:#3b4a7a;border-radius:2px;"></div>
<div style="position:absolute;left:689px;top:665px;width:4px;height:1.3px;background:#8a8a8a;"></div>
<div style="position:absolute;left:712.5px;top:647px;width:15px;height:13px;border-radius:50%;border:2px solid #2f9be8"></div>
<div style="position:absolute;left:718px;top:666px;width:4px;height:1.3px;background:#8a8a8a;"></div>
<div style="position:absolute;left:742.5px;top:648.5px;width:17px;height:13px;background:#2b2b2f;border-radius:2px;"></div>
<div style="position:absolute;left:749px;top:667px;width:4px;height:1.3px;background:#8a8a8a;"></div>
<div style="position:absolute;left:769.5px;top:641.5px;width:28px;height:26px;background:#f3b4b4;border-radius:4px;"></div>
<div style="position:absolute;left:774px;top:646.5px;width:19px;height:16px;background:#22c55e;border-radius:4px;"></div>
<div style="position:absolute;left:775px;top:667.3px;width:17px;height:1.6px;background:#e03b3b;border-radius:1px;"></div>
<svg width="960" height="668" viewBox="0 0 960 668">
<path d="M9.5 170 l3.5 -3.5 l3.5 3.5" stroke="#485262" stroke-width="1" fill="none"/>
<path d="M12.5 443.5 l3.2 3.2 l3.2 -3.2" stroke="#434d5c" stroke-width="1" fill="none"/>
<path d="M12.5 481.5 l3.2 3.2 l3.2 -3.2" stroke="#434d5c" stroke-width="1" fill="none"/>
<path d="M12.5 519.5 l3.2 3.2 l3.2 -3.2" stroke="#434d5c" stroke-width="1" fill="none"/>
<path d="M12.5 557.5 l3.2 3.2 l3.2 -3.2" stroke="#434d5c" stroke-width="1" fill="none"/>
<path d="M45 7.2h11M45 10.7h7.5M45 14.2h11M56 9l-2.6 1.7l2.6 1.7z" stroke="#1d1d1d" stroke-width="1.3" fill="#1d1d1d"/>
<text x="99.5" y="15.5" font-size="9" fill="#6c6c70" text-anchor="start" font-weight="normal">/</text>
<text x="154" y="16.0" font-size="9" fill="#6c6c70" text-anchor="start" font-weight="normal">/</text>
<text x="124" y="43.1" font-size="7" fill="#555" text-anchor="start" font-weight="normal">×</text>
<circle cx="145.5" cy="40.7" r="2.6" fill="#c5dccd"/>
<text x="184" y="43.5" font-size="7" fill="#bfe0cc" text-anchor="start" font-weight="normal">×</text>
<circle cx="226.5" cy="75.3" r="2.9" stroke="#a9d8bb" stroke-width="1" fill="none"/><path d="M228.6 77.6l1.6 1.7" stroke="#a9d8bb" stroke-width="1"/>
<circle cx="281" cy="76" r="2.7" stroke="#f3d694" stroke-width="1" fill="none"/>
<path d="M55 105.3h6M58 102.3v6" stroke="#a9cdf0" stroke-width="1"/>
<rect x="113" y="102.5" width="5.5" height="6" rx="1" stroke="#e7a9a9" stroke-width=".9" fill="none"/><path d="M112 102.3h7.5" stroke="#e7a9a9" stroke-width=".9"/>
<text x="90" y="141.2" font-size="7.6" fill="#5a5a5a" text-anchor="start" font-weight="normal">ID</text>
<text x="86" y="482.8" font-size="8" fill="#777" text-anchor="start" font-weight="normal">&lt;</text>
<text x="124.3" y="482.9" font-size="8.4" fill="#1e64b4" text-anchor="start" font-weight="bold">1</text>
<text x="147.7" y="482.9" font-size="8.4" fill="#222" text-anchor="start" font-weight="bold">2</text>
<text x="298" y="164.0" font-size="8" fill="#5c6066" text-anchor="start" font-weight="normal">90</text>
<text x="298" y="188.0" font-size="8" fill="#5c6066" text-anchor="start" font-weight="normal">0</text>
<text x="298" y="212.0" font-size="8" fill="#5c6066" text-anchor="start" font-weight="normal">1455</text>
<text x="590" y="164.0" font-size="8" fill="#5c6066" text-anchor="start" font-weight="normal">0</text>
<text x="590" y="188.0" font-size="8" fill="#5c6066" text-anchor="start" font-weight="normal">124492</text>
<text x="590" y="212.0" font-size="8" fill="#5c6066" text-anchor="start" font-weight="normal">99846</text>
<text x="818" y="164.0" font-size="8" fill="#5c6066" text-anchor="start" font-weight="normal">441051</text>
<text x="818" y="188.0" font-size="8" fill="#5c6066" text-anchor="start" font-weight="normal">261932</text>
<text x="248" y="234.4" font-size="8.2" fill="#5c6066" text-anchor="start" font-weight="normal">0</text>
<circle cx="749.3" cy="233.7" r="5.2" fill="#fff"/>
<path d="M194 263.3l2.3 -2.8l2.3 2.8z" fill="#c0c4cc"/><path d="M194 265.7l2.3 2.8l2.3 -2.8z" fill="#c0c4cc"/>
<text x="229" y="267.7" font-size="7.8" fill="#8b909a" text-anchor="start" font-weight="normal">UID</text>
<path d="M247 263.8l2.3 -2.8l2.3 2.8z" fill="#c0c4cc"/><path d="M247 266.2l2.3 2.8l2.3 -2.8z" fill="#c0c4cc"/>
<path d="M452 263.8l2.3 -2.8l2.3 2.8z" fill="#c0c4cc"/><path d="M452 266.2l2.3 2.8l2.3 -2.8z" fill="#c0c4cc"/>
<path d="M499.5 264.0l2.3 -2.8l2.3 2.8z" fill="#c0c4cc"/><path d="M499.5 266.4l2.3 2.8l2.3 -2.8z" fill="#c0c4cc"/>
<path d="M547 264.2l2.3 -2.8l2.3 2.8z" fill="#c0c4cc"/><path d="M547 266.59999999999997l2.3 2.8l2.3 -2.8z" fill="#c0c4cc"/>
<path d="M610 264.7l2.3 -2.8l2.3 2.8z" fill="#c0c4cc"/><path d="M610 267.09999999999997l2.3 2.8l2.3 -2.8z" fill="#2f7fd6"/>
<text x="432" y="321.8" font-size="8.2" fill="#5f6369" text-anchor="start" font-weight="normal">2</text>
<text x="479" y="321.8" font-size="8.2" fill="#5f6369" text-anchor="start" font-weight="normal">4</text>
<text x="527.5" y="321.8" font-size="8.2" fill="#5f6369" text-anchor="start" font-weight="normal">132</text>
<text x="574.5" y="321.8" font-size="8.2" fill="#5f6369" text-anchor="start" font-weight="normal">5368</text>
<rect x="349.3" y="308.8" width="6.6" height="9.2" rx="1.2" stroke="#9a9ea6" stroke-width=".9" fill="none"/><path d="M351 316.0h3.2" stroke="#9a9ea6" stroke-width=".8"/>
<path d="M338 313.3 l2.2 -2.2 a1.6 1.6 0 0 1 2.3 2.3 l-2.2 2.2 a1.6 1.6 0 0 1 -2.3 -2.3z" stroke="#b4b8bf" stroke-width=".8" fill="none"/>
<text x="432" y="395.5" font-size="8.2" fill="#5f6369" text-anchor="start" font-weight="normal">1</text>
<text x="479" y="395.5" font-size="8.2" fill="#5f6369" text-anchor="start" font-weight="normal">5</text>
<text x="527.5" y="395.5" font-size="8.2" fill="#5f6369" text-anchor="start" font-weight="normal">130</text>
<text x="574.5" y="395.5" font-size="8.2" fill="#5f6369" text-anchor="start" font-weight="normal">3922</text>
<rect x="349.3" y="382.5" width="6.6" height="9.2" rx="1.2" stroke="#9a9ea6" stroke-width=".9" fill="none"/><path d="M351 389.7h3.2" stroke="#9a9ea6" stroke-width=".8"/>
<path d="M338 387 l2.2 -2.2 a1.6 1.6 0 0 1 2.3 2.3 l-2.2 2.2 a1.6 1.6 0 0 1 -2.3 -2.3z" stroke="#b4b8bf" stroke-width=".8" fill="none"/>
<text x="433.5" y="469.5" font-size="8.2" fill="#5f6369" text-anchor="start" font-weight="normal">0</text>
<text x="480.5" y="469.5" font-size="8.2" fill="#5f6369" text-anchor="start" font-weight="normal">3</text>
<text x="535.0" y="469.5" font-size="8.2" fill="#5f6369" text-anchor="start" font-weight="normal">63</text>
<text x="582.0" y="469.5" font-size="8.2" fill="#5f6369" text-anchor="start" font-weight="normal">3737</text>
<rect x="349.3" y="456.5" width="6.6" height="9.2" rx="1.2" stroke="#9a9ea6" stroke-width=".9" fill="none"/><path d="M351 463.7h3.2" stroke="#9a9ea6" stroke-width=".8"/>
<text x="433.5" y="543.5" font-size="8.2" fill="#5f6369" text-anchor="start" font-weight="normal">0</text>
<text x="480.5" y="543.5" font-size="8.2" fill="#5f6369" text-anchor="start" font-weight="normal">9</text>
<text x="535.0" y="543.5" font-size="8.2" fill="#5f6369" text-anchor="start" font-weight="normal">201</text>
<text x="582.0" y="543.5" font-size="8.2" fill="#5f6369" text-anchor="start" font-weight="normal">3683</text>
<rect x="349.3" y="530.5" width="6.6" height="9.2" rx="1.2" stroke="#9a9ea6" stroke-width=".9" fill="none"/><path d="M351 537.7h3.2" stroke="#9a9ea6" stroke-width=".8"/>
<text x="188.5" y="394.6" font-size="13.5" fill="#f3eaf6" text-anchor="middle">J</text>
<text x="188.5" y="468.6" font-size="13.5" fill="#f3eaf6" text-anchor="middle">J</text>
<text x="188.5" y="542.3000000000001" font-size="13.5" fill="#f3eaf6" text-anchor="middle">t</text>
<text x="692.0" y="313.3" font-size="7" fill="#fff" text-anchor="middle" font-weight="bold">470</text>
<text x="734.1" y="339.9" font-size="7" fill="#fff" text-anchor="middle" font-weight="bold">1.1k</text>
<text x="773.8000000000001" y="339.9" font-size="7" fill="#fff" text-anchor="middle" font-weight="bold">994</text>
<text x="813.5000000000001" y="339.9" font-size="7" fill="#fff" text-anchor="middle" font-weight="bold">0</text>
<text x="825.3000000000002" y="309.8" font-size="6.6" fill="#fff" font-weight="bold">10/14</text>
<text x="853.2000000000002" y="339.9" font-size="7" fill="#fff" text-anchor="middle" font-weight="bold">0</text>
<text x="865.0000000000002" y="309.8" font-size="6.6" fill="#fff" font-weight="bold">10/14</text>
<text x="892.9000000000002" y="339.9" font-size="7" fill="#fff" text-anchor="middle" font-weight="bold">0</text>
<text x="681.6" y="413.7" font-size="7" fill="#fff" text-anchor="middle" font-weight="bold">191</text>
<text x="721.3000000000001" y="413.7" font-size="7" fill="#fff" text-anchor="middle" font-weight="bold">535</text>
<text x="761.0000000000001" y="413.7" font-size="7" fill="#fff" text-anchor="middle" font-weight="bold">953</text>
<text x="800.7000000000002" y="413.7" font-size="7" fill="#fff" text-anchor="middle" font-weight="bold">428</text>
<text x="812.5000000000002" y="383.6" font-size="6.6" fill="#fff" font-weight="bold">10/13</text>
<text x="840.4000000000002" y="413.7" font-size="7" fill="#fff" text-anchor="middle" font-weight="bold">104</text>
<text x="852.2000000000003" y="383.6" font-size="6.6" fill="#fff" font-weight="bold">10/13</text>
<text x="880.1000000000003" y="413.7" font-size="7" fill="#fff" text-anchor="middle" font-weight="bold">90</text>
<text x="681.6" y="486.9" font-size="7" fill="#fff" text-anchor="middle" font-weight="bold">1.1k</text>
<text x="721.3000000000001" y="486.9" font-size="7" fill="#fff" text-anchor="middle" font-weight="bold">497</text>
<text x="761.0000000000001" y="486.9" font-size="7" fill="#fff" text-anchor="middle" font-weight="bold">626</text>
<text x="800.7000000000002" y="486.9" font-size="7" fill="#fff" text-anchor="middle" font-weight="bold">1.0k</text>
<text x="812.5000000000002" y="456.8" font-size="6.6" fill="#fff" font-weight="bold">10/13</text>
<text x="840.4000000000002" y="486.9" font-size="7" fill="#fff" text-anchor="middle" font-weight="bold">404</text>
<text x="852.2000000000003" y="466.8" font-size="6.6" fill="#fff" font-weight="bold">10/13</text>
<text x="888.5000000000002" y="470.3" font-size="7" fill="#fff" text-anchor="middle" font-weight="bold">12</text>
<text x="681.6" y="560.9" font-size="7" fill="#fff" text-anchor="middle" font-weight="bold">991</text>
<text x="721.3000000000001" y="560.9" font-size="7" fill="#fff" text-anchor="middle" font-weight="bold">193</text>
<text x="761.0000000000001" y="560.9" font-size="7" fill="#fff" text-anchor="middle" font-weight="bold">1.0k</text>
<text x="800.7000000000002" y="560.9" font-size="7" fill="#fff" text-anchor="middle" font-weight="bold">0</text>
<text x="812.5000000000002" y="530.8" font-size="6.6" fill="#fff" font-weight="bold">10/13</text>
<text x="840.4000000000002" y="560.9" font-size="7" fill="#fff" text-anchor="middle" font-weight="bold">2</text>
<text x="852.2000000000003" y="530.8" font-size="6.6" fill="#fff" font-weight="bold">10/13</text>
<text x="880.1000000000003" y="560.9" font-size="7" fill="#fff" text-anchor="middle" font-weight="bold">474</text>
<path d="M169 581.5l4.5 -3v6z" fill="#7d7d7d"/>
<circle cx="332" cy="650.5" r="3.6" stroke="#333" stroke-width="1.1" fill="none"/><path d="M334.6 653.3l2.4 2.4" stroke="#333" stroke-width="1.1"/>
<path d="M745.5 652l3 2.2l-3 2.2M750 657.5h5" stroke="#fff" stroke-width="1" fill="none"/>
<ellipse cx="781.5" cy="653" rx="4.6" ry="3.8" fill="#fff"/><ellipse cx="786.8" cy="656.5" rx="3.8" ry="3.1" fill="#fff"/>
</svg>
</div>
<svg width="2730" height="1534" viewBox="0 0 2730 1534">
</svg>
<h2 class="t" style="left:155.5px;top:396.3px;font-size:62px;font-weight:bold;width:378px;height:68px;color:#0c0c0e;transform-origin:0 58.7px;transform:scaleY(1.1)">升级账号规模</h2>
<h2 class="t" style="left:990.3px;top:396.3px;font-size:62px;font-weight:bold;width:378px;height:68px;color:#0c0c0e;transform-origin:0 58.7px;transform:scaleY(1.1)">深化内容运营</h2>
<h2 class="t" style="left:1859.2px;top:396.3px;font-size:62px;font-weight:bold;width:378px;height:68px;color:#0c0c0e;transform-origin:0 58.7px;transform:scaleY(1.1)">强化账号管理</h2>
<p class="t" style="left:156.6px;top:498.5px;font-size:37.2px;letter-spacing:2.0px;width:516px;height:43px;color:#151517;transform-origin:0 35.2px;transform:scale(1.013,1.11)">扩大矩阵规模，覆盖更多方向</p>
<p class="t" style="left:992.3px;top:498.5px;font-size:37.2px;letter-spacing:2.0px;width:516px;height:43px;color:#151517;transform-origin:0 35.2px;transform:scale(1.013,1.11)">优化发布内容，调整发布时间</p>
<p class="t" style="left:1860.3px;top:498.5px;font-size:37.2px;letter-spacing:2.0px;width:596px;height:43px;color:#151517;transform-origin:0 35.2px;transform:scale(1.013,1.11)">通过后台账号管理，调整养号策略</p>
<svg width="2730" height="1534" viewBox="0 0 2730 1534">
<g fill="none" stroke="#3498d8" stroke-width="9" stroke-linejoin="round" stroke-linecap="round">
<path d="M2361.2 41.1 L2417.7 73.7 L2417.7 138.9 L2361.2 171.5 L2304.7 138.9 L2304.7 73.7Z"/>
<path d="M2307 107 Q2316 102 2326 100.3 C2329 88 2341 75 2357.4 75 C2366 75 2373.5 78 2379 83"/>
<path d="M2326 100.3 Q2335.5 100 2341.4 106.8"/>
<path d="M2370.9 112.9 C2372 101 2381 95.8 2391.7 95.8 C2400 95.8 2407 98 2414 101.5"/>
</g>
<path d="M2306 105 L2313.5 107.5 Q2308 116 2308.6 128 L2306 128Z M2416 99 L2412.3 116 Q2413.2 130 2410.5 139 L2416 136Z" fill="#3498d8"/>
<g stroke="#aab2dc" fill="none">
<line x1="2573.5" y1="176" x2="2573.5" y2="375" stroke-width="2"/>
<line x1="2573.5" y1="157" x2="2573.5" y2="165" stroke-width="2"/>
<circle cx="2573" cy="400.5" r="6.3" stroke="#7f92dc" stroke-width="2.6"/>
<path d="M2569 98h9M2569 102h9M2570 106h8M2571 111h7M2571 115h6M2571 119h6" stroke="#8f9add" stroke-width="2" opacity=".8"/>
</g>
</svg>
<div id="logo-en" class="t" style="left:2224.5px;top:240.6px;font:bold 25.3px/1 'Liberation Sans',sans-serif;letter-spacing:1.64px;padding-top:0;color:#0a0a0a;transform-origin:0 0;transform:scaleX(1.1)">TKCLOUDMASTER</div>
<div class="t" style="left:2222px;top:182.4px;font-size:54px;font-weight:bold;width:236px;height:54px;color:#0a0a0a;transform-origin:0 0;transform:scaleX(1.17)">TK云大师</div>

</div></body></html>
